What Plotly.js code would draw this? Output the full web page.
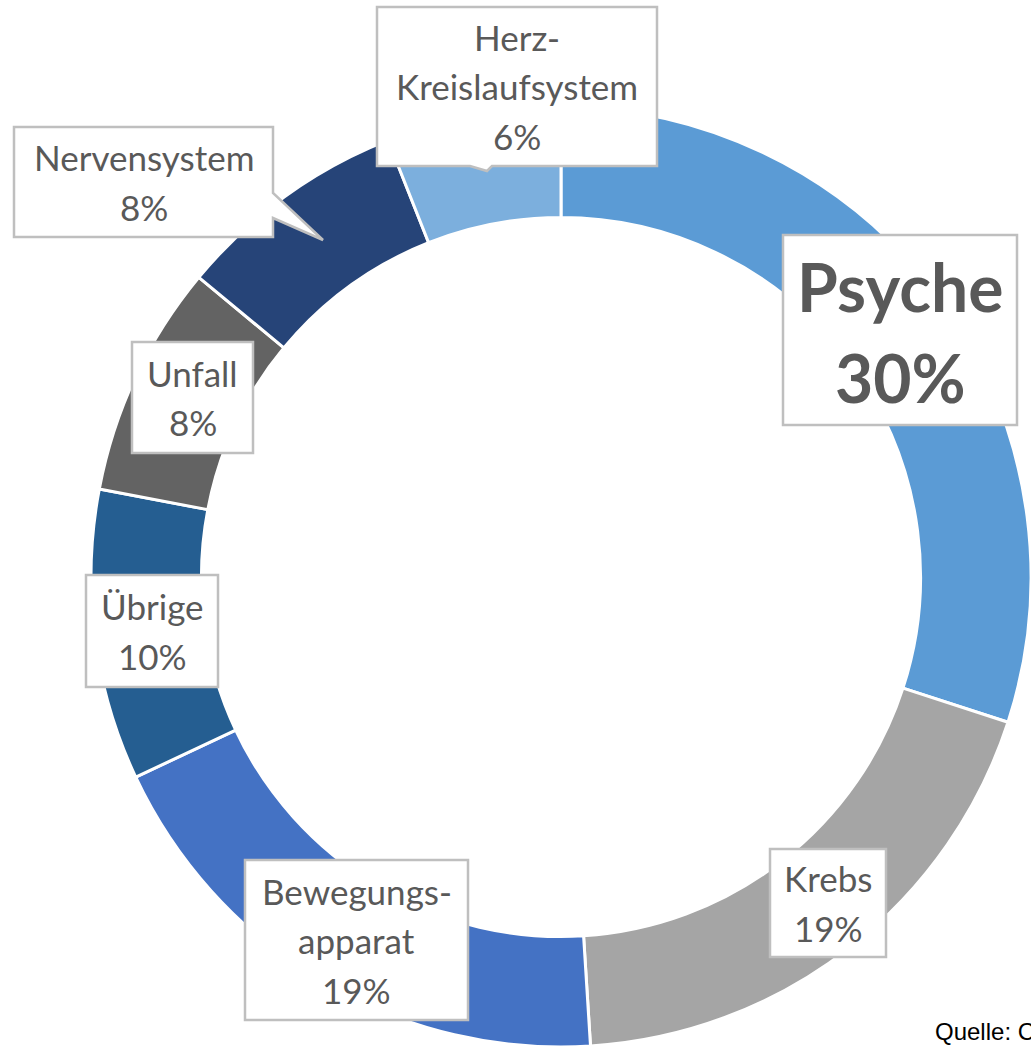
<!DOCTYPE html>
<html>
<head>
<meta charset="utf-8">
<script src="https://cdn.plot.ly/plotly-3.0.1.min.js"></script>
<style>html,body{margin:0;padding:0;background:#fff;}#chart{width:1031px;height:1050px;}</style>
</head>
<body>
<div id="chart"></div>
<script>
// ---- data ----
const categories = ["Psyche", "Krebs", "Bewegungsapparat", "Übrige", "Unfall", "Nervensystem", "Herz-Kreislaufsystem"];
const values = [30, 19, 19, 10, 8, 8, 6];
const labelLines = ["Psyche", "Krebs", "Bewegungs-<br>apparat", "Übrige", "Unfall", "Nervensystem", "Herz-<br>Kreislaufsystem"];
const sourceText = "Quelle: C";

// ---- styling / layout (pixels) ----
const W = 1031, H = 1050;
const colors = ["#5B9BD5", "#A5A5A5", "#4472C4", "#255E91", "#636363", "#264478", "#7CAFDD"];
const center = {x: 562, y: 577}, R = 471;
// label boxes: [x0, y0, x1, y1] in pixels
const boxes = [
  [783, 235, 1017, 425],
  [770, 849, 886, 957],
  [245, 860, 468, 1020],
  [86, 575, 218, 687],
  [132, 342, 253, 453],
  [14, 127, 273, 237],
  [377, 7, 657, 166]
];
const px = x => x / W;
const py = y => 1 - y / H;

const total = values.reduce((a, b) => a + b, 0);

const trace = {
  type: "pie",
  labels: categories,
  values: values,
  sort: false,
  direction: "clockwise",
  rotation: 0,
  hole: 0.765,
  textinfo: "none",
  hoverinfo: "none",
  marker: {colors: colors, line: {color: "#ffffff", width: 3}},
  domain: {x: [px(center.x - R), Math.min(1, px(center.x + R))], y: [py(center.y + R), py(center.y - R)]},
  showlegend: false
};

const borderCol = "#bfbfbf";
const shapes = [];
const annotations = [];
categories.forEach((c, i) => {
  const b = boxes[i];
  if (c === "Nervensystem") {
    const pts = [[b[0], b[1]], [b[2], b[1]], [b[2], 193], [323, 240], [b[2], 218], [b[2], b[3]], [b[0], b[3]]];
    shapes.push({type: "path", xref: "paper", yref: "paper", layer: "above",
      path: "M " + pts.map(p => px(p[0]) + "," + py(p[1])).join(" L ") + " Z",
      fillcolor: "#ffffff", line: {color: borderCol, width: 2.5}});
  } else if (c === "Herz-Kreislaufsystem") {
    const pts = [[b[0], b[1]], [b[2], b[1]], [b[2], b[3]], [492, b[3]], [487, 171], [470, b[3]], [b[0], b[3]]];
    shapes.push({type: "path", xref: "paper", yref: "paper", layer: "above",
      path: "M " + pts.map(p => px(p[0]) + "," + py(p[1])).join(" L ") + " Z",
      fillcolor: "#ffffff", line: {color: borderCol, width: 2.5}});
  } else {
    shapes.push({type: "rect", xref: "paper", yref: "paper", layer: "above",
      x0: px(b[0]), x1: px(b[2]), y0: py(b[3]), y1: py(b[1]),
      fillcolor: "#ffffff", line: {color: borderCol, width: 2.5}});
  }
  const pct = Math.round(values[i] / total * 100) + "%";
  const big = c === "Psyche";
  const lines = labelLines[i].split("<br>").concat([pct]);
  const step = big ? 91 : 49.5;
  const cy = (b[1] + b[3]) / 2 + (big ? 2 : 0);
  lines.forEach((t, k) => {
    annotations.push({
      xref: "paper", yref: "paper",
      x: px((b[0] + b[2]) / 2), y: py(cy + (k - (lines.length - 1) / 2) * step),
      xanchor: "center", yanchor: "middle", showarrow: false,
      text: big ? "<b>" + t + "</b>" : t,
      font: {family: "Lato, 'Open Sans', sans-serif", size: big ? 66 : 35, color: "#595959"},
      align: "center"
    });
  });
});

annotations.push({
  xref: "paper", yref: "paper", x: px(933), y: py(1031),
  xanchor: "left", yanchor: "middle", showarrow: false,
  text: sourceText,
  font: {family: "'Liberation Sans', Arial, sans-serif", size: 24, color: "#000000"}
});

const layout = {
  width: W, height: H,
  margin: {l: 0, r: 0, t: 0, b: 0},
  paper_bgcolor: "#ffffff",
  plot_bgcolor: "#ffffff",
  showlegend: false,
  shapes: shapes,
  annotations: annotations
};

Plotly.newPlot("chart", [trace], layout, {displayModeBar: false, staticPlot: true});
</script>
</body>
</html>
